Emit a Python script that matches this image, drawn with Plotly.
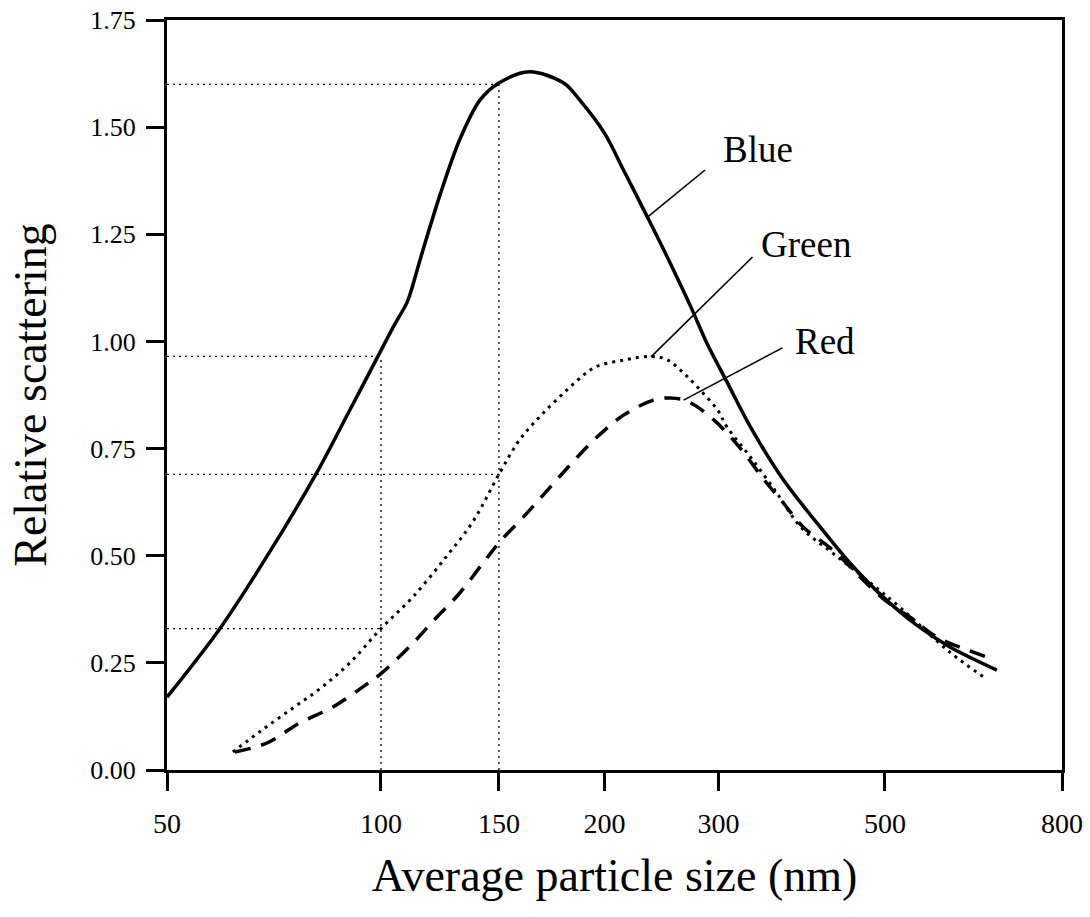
import numpy as np
import plotly.graph_objects as go

# ---------------- data ----------------
x_tick_values = [50, 100, 150, 200, 300, 500, 800]
x_tick_labels = ["50", "100", "150", "200", "300", "500", "800"]
y_tick_values = [0.0, 0.25, 0.5, 0.75, 1.0, 1.25, 1.5, 1.75]

blue_size = [50, 59.4, 69.8, 81.3, 90.4, 99, 104, 109.3, 110.5, 115.5, 122.5, 131, 140.5,
             150, 163, 179, 187, 200, 214, 233, 250, 272, 288, 308, 331, 366, 406,
             449, 497, 544, 594, 673]
blue_scat = [0.17, 0.331, 0.51, 0.695, 0.84, 0.965, 1.03, 1.09, 1.11, 1.213, 1.342, 1.47, 1.563,
             1.603, 1.629, 1.603, 1.563, 1.486, 1.40, 1.29, 1.197, 1.08, 0.995, 0.905, 0.80, 0.677, 0.576,
             0.483, 0.404, 0.338, 0.287, 0.233]

green_size = [61.9, 67.6, 74.5, 82.1, 90.4, 100, 111.6, 125.5, 137.2, 150, 158, 165, 186, 195,
              215, 236, 250, 265, 281, 299, 308, 331, 359, 386, 426, 473, 520, 594, 652]
green_scat = [0.042, 0.09, 0.14, 0.19, 0.25, 0.33, 0.404, 0.50, 0.58, 0.69, 0.765, 0.81, 0.91, 0.94,
              0.957, 0.965, 0.957, 0.926, 0.887, 0.84, 0.80, 0.73, 0.646, 0.567, 0.506, 0.443, 0.38, 0.275, 0.215]

red_size = [62.3, 69.1, 76.9, 85.6, 94.3, 100, 111.6, 121.2, 131.1, 142, 150, 162, 172.5, 183.7,
            196, 214, 238, 253, 269, 295, 321, 344, 366, 389, 426, 497, 534, 574, 622, 670]
red_scat = [0.042, 0.063, 0.11, 0.147, 0.194, 0.225, 0.296, 0.357, 0.413, 0.483, 0.53, 0.60, 0.66, 0.72,
            0.777, 0.828, 0.863, 0.868, 0.86, 0.817, 0.75, 0.68, 0.623, 0.567, 0.513, 0.40, 0.357, 0.31, 0.28, 0.257]

# reference (guide) lines: size -> levels read on the y axis
ref_sizes = [100, 150]
ref_levels_100 = [0.965, 0.33]
ref_levels_150 = [1.60, 0.69]

# labels: (name, point on curve, leader end, text position)
label_names = ["Blue", "Green", "Red"]
label_curve_size = [233, 236, 265]
label_curve_scat = [1.29, 0.964, 0.863]
label_end_size = [286, 333, 365]
label_end_scat = [1.40, 1.197, 0.985]
label_text_size = [302, 340, 377]
label_text_scat = [1.447, 1.227, 0.999]

# ---------------- axis scale (the chart's own non-uniform size axis) ----------------
X_TICK_POS = [0.0, 0.2391, 0.3709, 0.4888, 0.6162, 0.8022, 1.0]


def xs(nm):
    return np.interp(np.log10(np.asarray(nm, dtype=float)), np.log10(x_tick_values), X_TICK_POS)


FONT = "Liberation Serif"
fig = go.Figure()

# guide lines
guide = dict(color="black", width=1.3, dash="2px,4px")
for lv in ref_levels_150:
    fig.add_trace(go.Scatter(x=xs([50, ref_sizes[1]]), y=[lv, lv], mode="lines", line=guide,
                             hoverinfo="skip", showlegend=False))
for lv in ref_levels_100:
    fig.add_trace(go.Scatter(x=xs([50, ref_sizes[0]]), y=[lv, lv], mode="lines", line=guide,
                             hoverinfo="skip", showlegend=False))
fig.add_trace(go.Scatter(x=xs([ref_sizes[0]] * 2), y=[0, ref_levels_100[0]], mode="lines", line=guide,
                         hoverinfo="skip", showlegend=False))
fig.add_trace(go.Scatter(x=xs([ref_sizes[1]] * 2), y=[0, ref_levels_150[0]], mode="lines", line=guide,
                         hoverinfo="skip", showlegend=False))

# curves
fig.add_trace(go.Scatter(x=xs(green_size), y=green_scat, mode="lines", name="Green",
                         line=dict(color="black", width=3, dash="3px,5px", shape="spline", smoothing=1.0)))
fig.add_trace(go.Scatter(x=xs(red_size), y=red_scat, mode="lines", name="Red",
                         line=dict(color="black", width=3.5, dash="16px,11px", shape="spline", smoothing=1.0)))
fig.add_trace(go.Scatter(x=xs(blue_size), y=blue_scat, mode="lines", name="Blue",
                         line=dict(color="black", width=3.5, shape="spline", smoothing=0.9)))

# leaders
for i in range(len(label_names)):
    fig.add_trace(go.Scatter(x=xs([label_curve_size[i], label_end_size[i]]),
                             y=[label_curve_scat[i], label_end_scat[i]], mode="lines",
                             line=dict(color="black", width=1.6), hoverinfo="skip", showlegend=False))
    fig.add_annotation(x=float(xs(label_text_size[i])), y=label_text_scat[i], text=label_names[i],
                       showarrow=False, xanchor="left", yanchor="middle",
                       font=dict(family=FONT, size=37, color="black"))

fig.update_layout(
    width=1090, height=917,
    margin=dict(l=167, r=28, t=20, b=147),
    paper_bgcolor="white", plot_bgcolor="white",
    showlegend=False,
    font=dict(family=FONT, color="black"),
    xaxis=dict(range=[0, 1], tickvals=X_TICK_POS, ticktext=x_tick_labels, automargin=False,
               showgrid=False, zeroline=False, showline=True, linecolor="black", linewidth=3,
               mirror=True, ticks="outside", ticklen=18, tickwidth=3, tickcolor="black",
               tickfont=dict(family=FONT, size=28), ticklabelstandoff=8, ticklabeloverflow="allow",
               title=dict(text="Average particle size (nm)", font=dict(family=FONT, size=46), standoff=22)),
    yaxis=dict(range=[0, 1.75], tickvals=y_tick_values, tickformat=".2f", automargin=False,
               showgrid=False, zeroline=False, showline=True, linecolor="black", linewidth=3,
               mirror=True, ticks="outside", ticklen=18, tickwidth=3, tickcolor="black",
               tickfont=dict(family=FONT, size=26), ticklabelstandoff=5, ticklabeloverflow="allow",
               title=dict(text="Relative scattering", font=dict(family=FONT, size=46), standoff=30)),
)

# remove the default page margin so the figure sits at the window's top-left corner
fig.write_html("out.html", config={"displayModeBar": False},
               post_script="document.body.style.margin='0';document.documentElement.style.overflow='hidden';")
